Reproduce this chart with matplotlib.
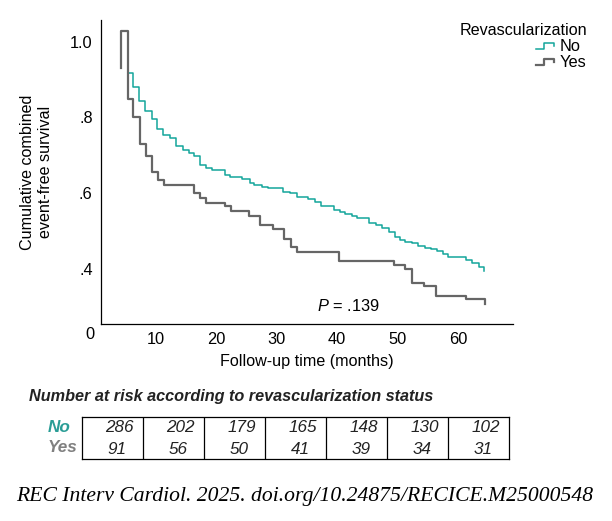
import matplotlib
matplotlib.use("Agg")
import matplotlib.pyplot as plt
from matplotlib.legend_handler import HandlerBase
from matplotlib.lines import Line2D

plt.rcParams["font.family"] = ["Liberation Sans", "DejaVu Sans"]
plt.rcParams["mathtext.fontset"] = "custom"
plt.rcParams["mathtext.it"] = "Liberation Sans:italic"
plt.rcParams["mathtext.rm"] = "Liberation Sans"

TEAL = "#14a59b"
GRAY = "#666666"

# Kaplan-Meier steps (months, survival after the step)
t_no = [5.4, 6.2, 7.2, 8.2, 9.3, 10.2, 11.2, 12.3, 13.3, 14.4, 15.4, 16.3, 17.3,
        18.3, 19.2, 21.4, 22.3, 24.3, 25.5, 26.3, 27.5, 28.5, 31.1, 32.2, 33.4,
        35.2, 36.4, 37.3, 39.4, 40.4, 41.3, 42.4, 43.2, 45.3, 46.4, 47.4, 48.5,
        49.5, 50.4, 51.2, 52.3, 53.4, 54.5, 55.5, 56.5, 57.5, 58.4, 61.3, 62.3,
        63.4, 64.3]
s_no = [0.918, 0.881, 0.844, 0.818, 0.795, 0.769, 0.754, 0.745, 0.725, 0.714,
        0.707, 0.697, 0.675, 0.666, 0.660, 0.648, 0.642, 0.637, 0.626, 0.622,
        0.617, 0.615, 0.604, 0.600, 0.591, 0.584, 0.578, 0.566, 0.556, 0.551,
        0.545, 0.540, 0.534, 0.522, 0.516, 0.508, 0.499, 0.485, 0.477, 0.472,
        0.468, 0.462, 0.456, 0.452, 0.448, 0.440, 0.433, 0.424, 0.415, 0.406,
        0.396]

t_yes = [4.2, 4.2, 5.4, 6.2, 7.35, 8.3, 9.3, 10.4, 11.3, 16.3, 17.3, 18.3, 21.4,
         22.4, 25.4, 27.3, 29.3, 31.2, 32.3, 33.3, 40.3, 49.45, 51.3, 52.3, 54.4,
         56.4, 61.3, 64.5]
s_yes = [0.931, 1.029, 0.849, 0.800, 0.730, 0.697, 0.657, 0.635, 0.622, 0.600,
         0.587, 0.575, 0.565, 0.554, 0.541, 0.516, 0.505, 0.479, 0.459, 0.446,
         0.422, 0.411, 0.400, 0.364, 0.354, 0.329, 0.320, 0.308]

x_ticks = [10, 20, 30, 40, 50, 60]
y_ticks = [0.4, 0.6, 0.8, 1.0]
y_tick_labels = [".4", ".6", ".8", "1.0"]

risk_no = [286, 202, 179, 165, 148, 130, 102]
risk_yes = [91, 56, 50, 41, 39, 34, 31]


class StepHandler(HandlerBase):
    # little step-shaped legend key like the SPSS output
    def create_artists(self, legend, orig_handle, xdescent, ydescent,
                       width, height, fontsize, trans):
        xs = [0, 0.4 * width, 0.4 * width, 0.9 * width, 0.9 * width]
        ys = [0.2 * height, 0.2 * height, 0.7 * height, 0.7 * height, 0.4 * height]
        xs = [x - xdescent for x in xs]
        ys = [y - ydescent for y in ys]
        line = Line2D(xs, ys, color=orig_handle.get_color(),
                      lw=orig_handle.get_linewidth(), transform=trans)
        return [line]


fig = plt.figure(figsize=(6.12, 5.21), dpi=100)
W, H = 612, 521
ax = fig.add_axes([101 / W, 1 - 324 / H, 412 / W, 304 / H])

l_no, = ax.step(t_no, s_no, where="post", color=TEAL, lw=1.1)
l_yes, = ax.step(t_yes, s_yes, where="post", color=GRAY, lw=1.6)

ax.set_xlim(0.9, 69.1)
ax.set_ylim(0.255, 1.057)
ax.set_xticks(x_ticks)
ax.set_yticks(y_ticks)
ax.set_yticklabels(y_tick_labels)
ax.tick_params(length=0, labelsize=11.8, pad=6)
for side in ["top", "right"]:
    ax.spines[side].set_visible(False)
for side in ["left", "bottom"]:
    ax.spines[side].set_linewidth(0.9)

ax.text(-0.027, -0.036, "0", transform=ax.transAxes, ha="center", va="center",
        fontsize=11.8)
ax.set_xlabel("Follow-up time (months)", fontsize=11.6, labelpad=5)
ax.set_ylabel("Cumulative combined\nevent-free survival", fontsize=11.6,
              labelpad=12, linespacing=1.3)
ax.text(36.6, 0.303, "$P$ = .139", fontsize=11.8, va="center")

leg = fig.legend([l_no, l_yes], ["No", "Yes"], title="Revascularization",
                 loc="upper right", bbox_to_anchor=(595 / W, 1 - 15 / H),
                 frameon=False, fontsize=11.8, title_fontsize=11.6,
                 handler_map={Line2D: StepHandler()}, handlelength=1.2,
                 handletextpad=0.25, labelspacing=0.05, borderpad=0,
                 alignment="right")

# number at risk table
fig.text(29 / W, 1 - 397 / H, "Number at risk according to revascularization status",
         fontsize=11.7, fontweight="bold", fontstyle="italic", va="center",
         color="#222222")
tab = fig.add_axes([82 / W, 1 - 459 / H, 427 / W, 42.3 / H])
tab.set_xlim(0, len(risk_no))
tab.set_ylim(0, 2)
tab.set_xticks([])
tab.set_yticks([])
for sp in tab.spines.values():
    sp.set_linewidth(0.9)
for i in range(1, len(risk_no)):
    tab.axvline(i, color="black", lw=0.9)
for i, (a, b) in enumerate(zip(risk_no, risk_yes)):
    tab.text(i + 0.62, 1.5, str(a), ha="center", va="center", fontsize=12.3,
             fontstyle="italic", color="#222222")
    tab.text(i + 0.58, 0.46, str(b), ha="center", va="center", fontsize=12.3,
             fontstyle="italic", color="#222222")
fig.text(48 / W, 1 - 427 / H, "No", fontsize=12.3, fontweight="bold",
         fontstyle="italic", color="#2a9d96", va="center")
fig.text(48 / W, 1 - 448 / H, "Yes", fontsize=12.3, fontweight="bold",
         fontstyle="italic", color="#808080", va="center")

fig.text(16 / W, 1 - 497 / H, "REC Interv Cardiol. 2025. doi.org/10.24875/RECICE.M25000548",
         family=["Liberation Serif", "DejaVu Serif"], fontstyle="italic",
         fontsize=15.6, va="center")

fig.savefig("out.png", dpi=100)
